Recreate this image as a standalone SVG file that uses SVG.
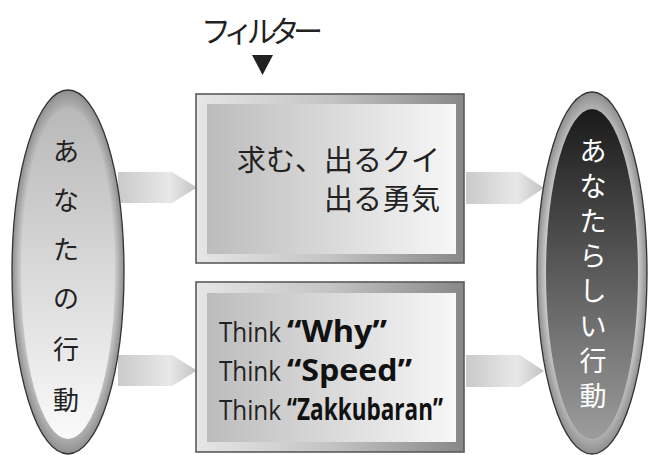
<svg xmlns="http://www.w3.org/2000/svg" width="650" height="455" viewBox="0 0 650 455">
<defs>
<style>
.jp{font-family:"Noto Sans CJK JP","Noto Sans",sans-serif;fill:#222}
.jpw{font-family:"Noto Sans CJK JP","Noto Sans",sans-serif;fill:#fff}
.thk{font-family:"Open Sans","Noto Sans",sans-serif;font-size:27px;fill:#222}
.big{font-family:"Open Sans","Noto Sans",sans-serif;font-weight:bold;font-size:31px;fill:#111}
.frame{fill:url(#frameG);stroke:#5a5a5a;stroke-width:1.6}
.inner{fill:url(#innerG)}
.arr{fill:url(#arrG)}
.ring{fill:url(#ringG);stroke:#333;stroke-width:1.3}
</style>
<linearGradient id="frameG" x1="0" y1="0" x2="1" y2="0">
<stop offset="0" stop-color="#e6e6e6"/><stop offset="0.5" stop-color="#c4c4c4"/><stop offset="1" stop-color="#888"/>
</linearGradient>
<linearGradient id="innerG" x1="0" y1="0" x2="1" y2="0">
<stop offset="0" stop-color="#bcbcbc"/><stop offset="1" stop-color="#f7f7f7"/>
</linearGradient>
<linearGradient id="arrG" x1="0" y1="0" x2="1" y2="0">
<stop offset="0" stop-color="#cacaca"/><stop offset="0.65" stop-color="#e8e8e8"/><stop offset="1" stop-color="#c2c2c2"/>
</linearGradient>
<radialGradient id="ringG" cx="0.5" cy="0.5" r="0.5">
<stop offset="0" stop-color="#f2f2f2"/><stop offset="0.8" stop-color="#dcdcdc"/><stop offset="1" stop-color="#8e8e8e"/>
</radialGradient>
<linearGradient id="leftIn" x1="0" y1="0" x2="0" y2="1">
<stop offset="0" stop-color="#b8b8b8"/><stop offset="1" stop-color="#fafafa"/>
</linearGradient>
<linearGradient id="rightIn" x1="0" y1="0" x2="0" y2="1">
<stop offset="0" stop-color="#1a1a1a"/><stop offset="1" stop-color="#9c9c9c"/>
</linearGradient>
</defs>

<g id="filter-label">
<text class="jp" x="262" y="42" font-size="30" text-anchor="middle" textLength="122" lengthAdjust="spacing">フィルター</text>
<polygon points="252,55 273,55 262.5,75" fill="#222"/>
</g>

<g id="connectors">
<polygon class="arr" points="118,172 172,172 197,187.5 172,203 118,203"/>
<polygon class="arr" points="118,355 172,355 197,370.5 172,386 118,386"/>
<polygon class="arr" points="466,172 520,172 544,188 520,204 466,204"/>
<polygon class="arr" points="466,355 520,355 544,371 520,387 466,387"/>
</g>

<g id="you-action">
<ellipse class="ring" cx="68" cy="272" rx="56" ry="182"/>
<ellipse cx="68" cy="273" rx="47" ry="166" fill="url(#leftIn)"/>
<g class="jp" font-size="26" text-anchor="middle">
<text x="66" y="161">あ</text>
<text x="66" y="210">な</text>
<text x="66" y="259">た</text>
<text x="66" y="308">の</text>
<text x="66" y="359">行</text>
<text x="66" y="410">動</text>
</g>
</g>

<g id="box-top">
<rect class="frame" x="196" y="94" width="268" height="169"/>
<rect class="inner" x="207" y="104" width="249" height="150"/>
<g class="jp" font-size="29" text-anchor="end">
<text x="440" y="171">求む、出るクイ</text>
<text x="440" y="210">出る勇気</text>
</g>
</g>

<g id="box-bottom">
<rect class="frame" x="196" y="282" width="268" height="170"/>
<rect class="inner" x="207" y="293" width="249" height="149"/>
<text class="thk" x="219" y="342" textLength="62" lengthAdjust="spacingAndGlyphs">Think</text>
<text class="big" x="287" y="342" textLength="100" lengthAdjust="spacingAndGlyphs">“Why”</text>
<text class="thk" x="219" y="381" textLength="62" lengthAdjust="spacingAndGlyphs">Think</text>
<text class="big" x="287" y="381" textLength="125" lengthAdjust="spacingAndGlyphs">“Speed”</text>
<text class="thk" x="219" y="420" textLength="62" lengthAdjust="spacingAndGlyphs">Think</text>
<text class="big" x="287" y="420" textLength="156" lengthAdjust="spacingAndGlyphs">“Zakkubaran”</text>
</g>

<g id="your-action">
<ellipse class="ring" cx="592" cy="273" rx="55" ry="181"/>
<ellipse cx="592" cy="274" rx="46" ry="165" fill="url(#rightIn)"/>
<g class="jpw" font-size="27" text-anchor="middle">
<text x="593" y="161">あ</text>
<text x="593" y="196">な</text>
<text x="593" y="231">た</text>
<text x="593" y="266">ら</text>
<text x="593" y="301">し</text>
<text x="593" y="336">い</text>
<text x="593" y="371">行</text>
<text x="593" y="406">動</text>
</g>
</g>
</svg>
